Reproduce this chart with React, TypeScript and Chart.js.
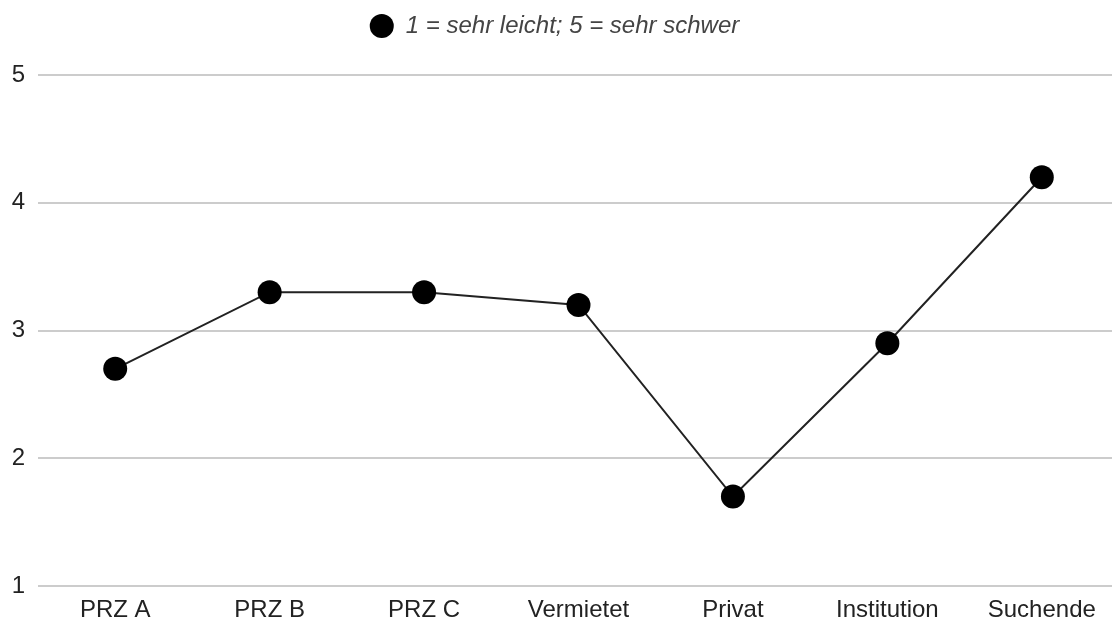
import React, { useEffect, useRef } from "react";
import { Chart, registerables } from "chart.js";

Chart.register(...registerables);

const categories = ["PRZ A", "PRZ B", "PRZ C", "Vermietet", "Privat", "Institution", "Suchende"];
const values = [2.7, 3.3, 3.3, 3.2, 1.7, 2.9, 4.2];
const seriesLabel = "1 = sehr leicht; 5 = sehr schwer";
const yMin = 1;
const yMax = 5;

const FONT = "'Liberation Sans', Arial, sans-serif";

const legendSpacer = {
  id: "legendSpacer",
  beforeLayout(chart: any) {
    const lg = chart.legend;
    if (lg && !lg.__patched) {
      const origFit = lg.fit;
      lg.fit = function () {
        origFit.call(this);
        this.height += 27;
      };
      const origDraw = lg.draw;
      lg.draw = function (...args: any[]) {
        const ctx = this.ctx;
        ctx.save();
        ctx.translate(-11, 0);
        origDraw.apply(this, args);
        ctx.restore();
      };
      lg.__patched = true;
    }
  },
};

export default function App() {
  const ref = useRef<HTMLCanvasElement | null>(null);
  useEffect(() => {
    document.body.style.margin = "0";
    const canvas = ref.current!;
    const chart = new Chart(canvas, {
      type: "line",
      data: {
        labels: categories,
        datasets: [
          {
            label: seriesLabel,
            data: values,
            borderColor: "#222222",
            backgroundColor: "#000000",
            borderWidth: 2,
            pointRadius: 12,
            pointHoverRadius: 12,
            pointBackgroundColor: "#000000",
            pointBorderColor: "#000000",
            pointBorderWidth: 0,
            tension: 0,
          },
        ],
      },
      plugins: [legendSpacer],
      options: {
        responsive: false,
        animation: false,
        layout: { padding: { top: 4, left: 0, right: 0, bottom: 0 } },
        plugins: {
          tooltip: { enabled: false },
          legend: {
            display: true,
            position: "top",
            labels: {
              usePointStyle: true,
              pointStyle: "circle",
              boxWidth: 24,
              boxHeight: 17,
              padding: 10,
              color: "#444444",
              font: { family: FONT, size: 24, style: "italic" },
            },
          },
        },
        scales: {
          x: {
            type: "category",
            offset: true,
            grid: { display: false },
            border: { display: false },
            ticks: {
              color: "#222222",
              padding: 2,
              maxRotation: 0,
              autoSkip: false,
              font: { family: FONT, size: 24 },
            },
            afterFit: (s: any) => {
              s.height = 33;
            },
          },
          y: {
            min: yMin,
            max: yMax,
            grid: { color: "#cccccc", lineWidth: 2, drawTicks: false },
            border: { display: false },
            ticks: {
              stepSize: 1,
              color: "#222222",
              padding: 13,
              font: { family: FONT, size: 24 },
            },
            afterFit: (s: any) => {
              s.width = 38;
            },
          },
        },
      },
    });
    return () => chart.destroy();
  }, []);
  return (
    <div style={{ width: 1112, height: 619, overflow: "hidden", background: "#fff" }}>
      <canvas ref={ref} width={1131} height={619} style={{ display: "block" }} />
    </div>
  );
}
